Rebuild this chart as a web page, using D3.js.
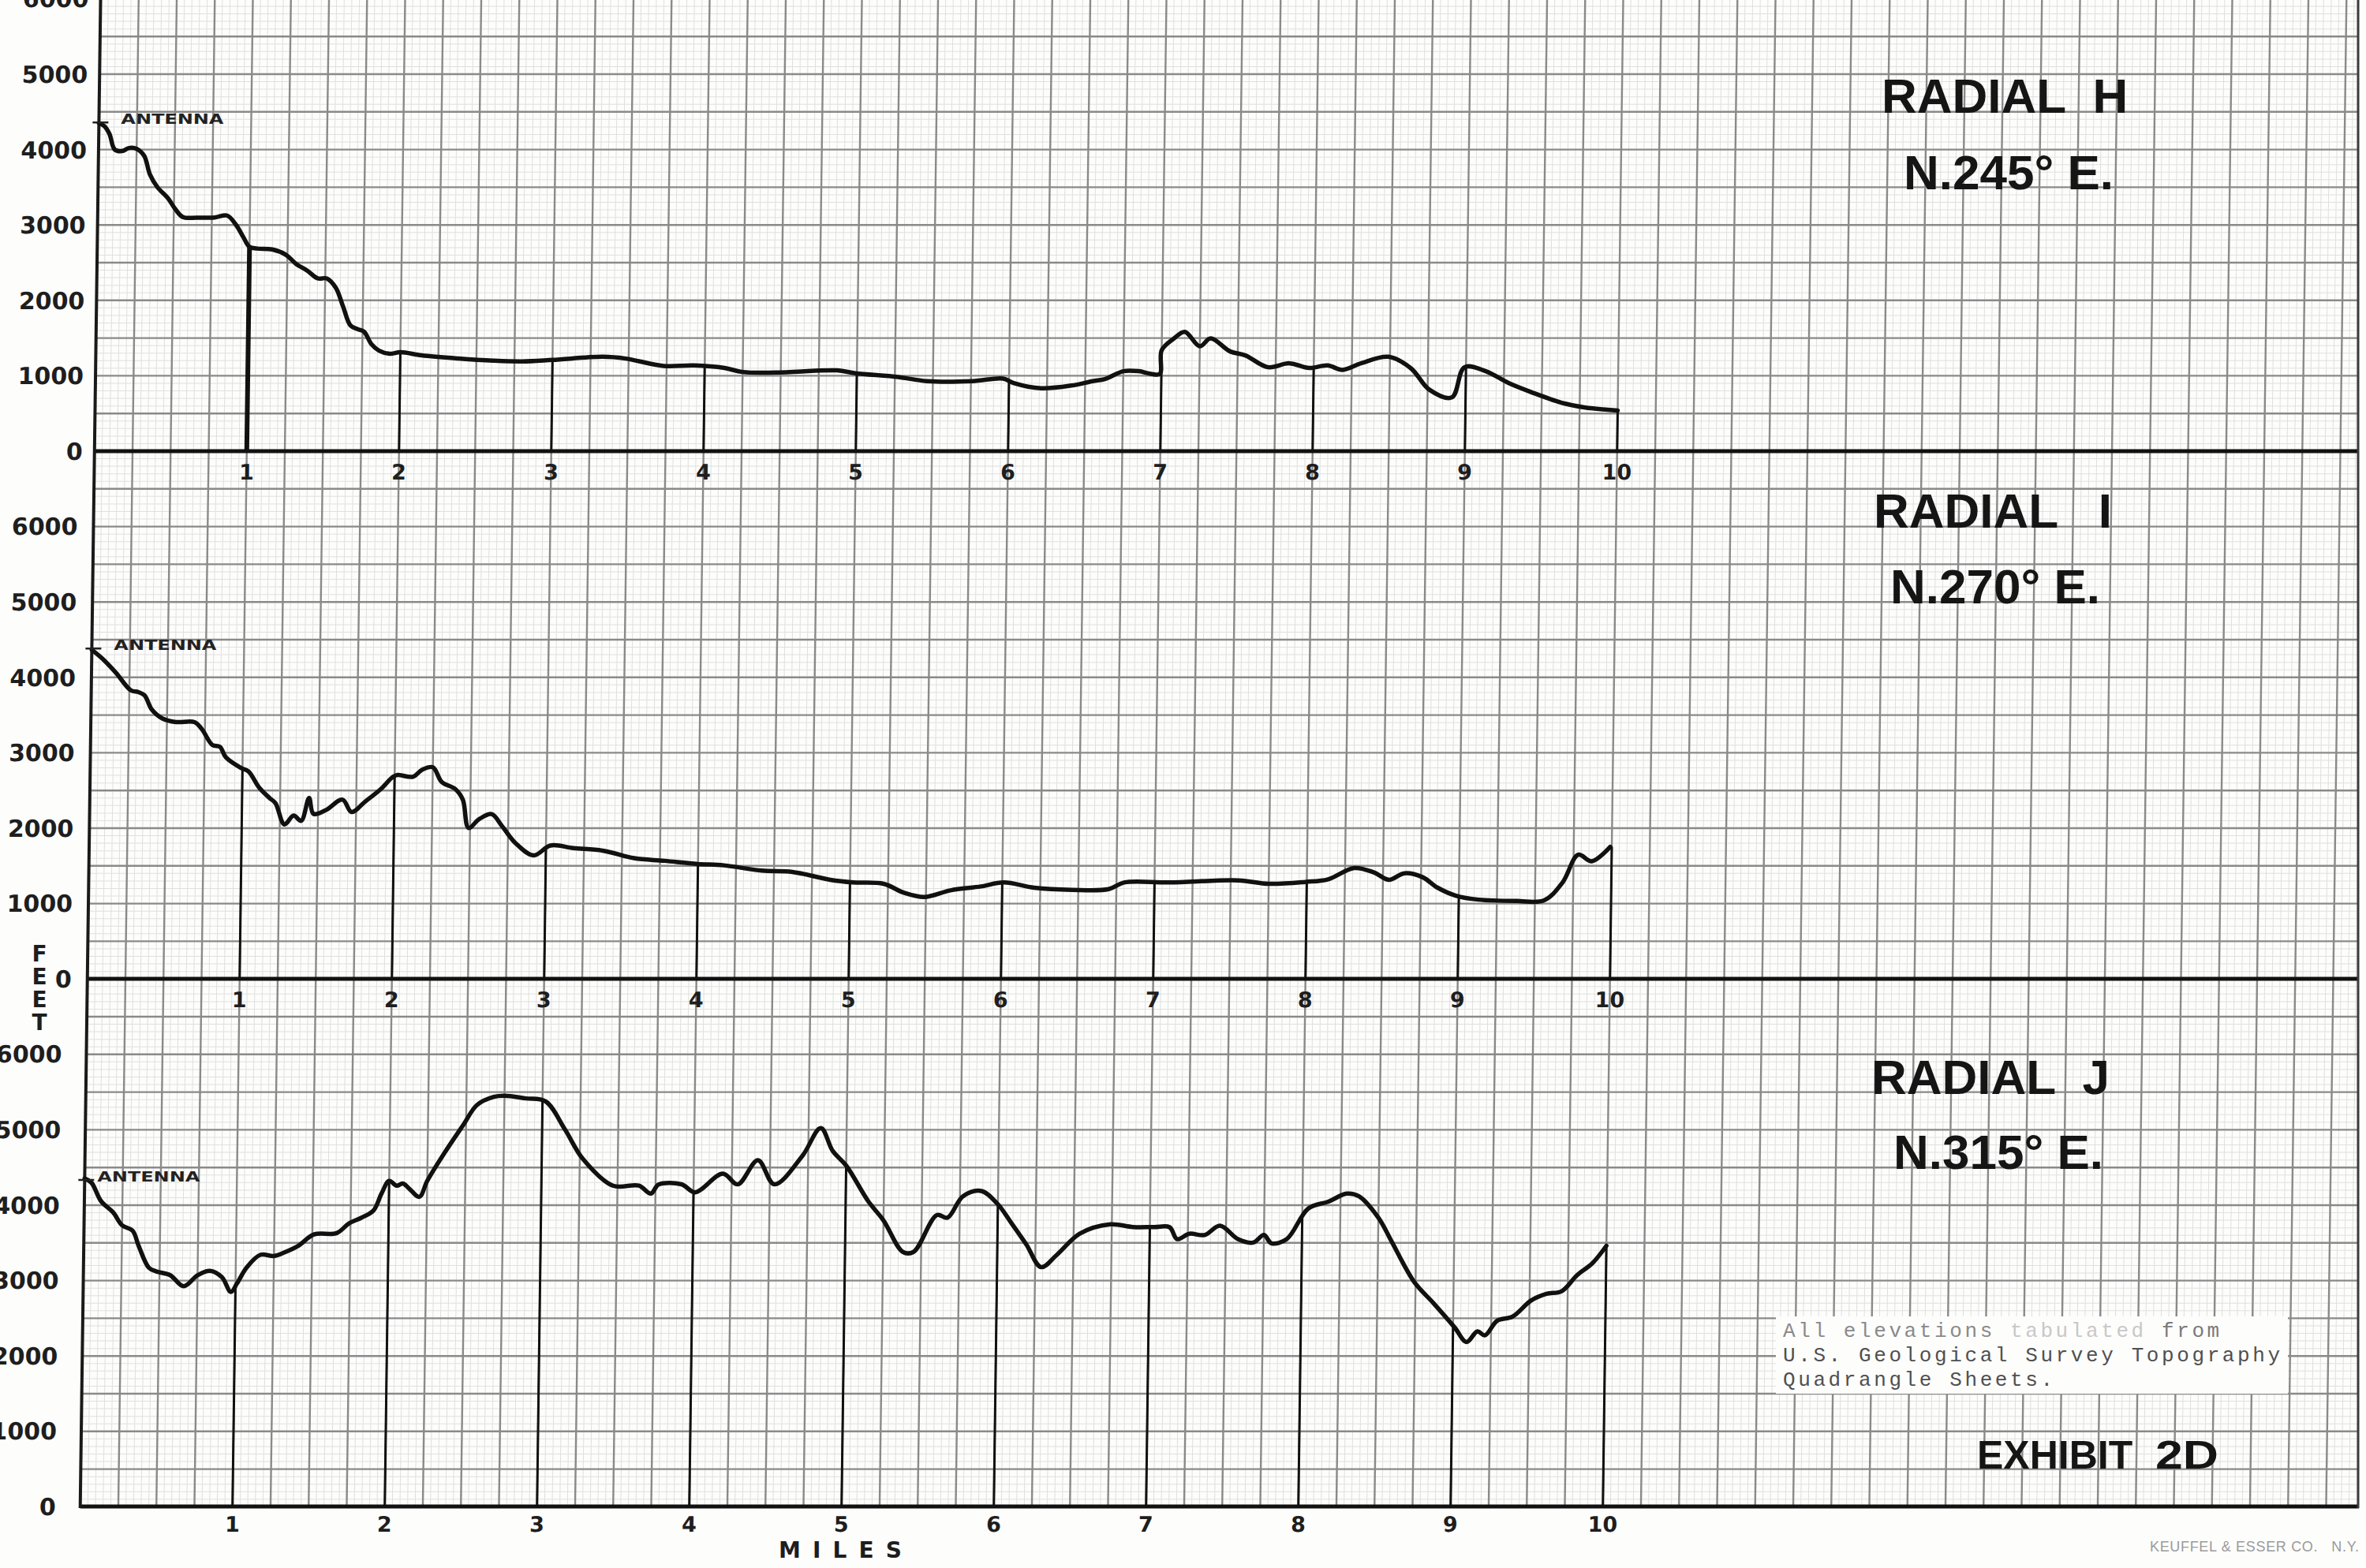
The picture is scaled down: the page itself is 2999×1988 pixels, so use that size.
<!DOCTYPE html>
<html>
<head>
<meta charset="utf-8">
<script src="https://cdn.jsdelivr.net/npm/d3@7"></script>
<style>
  html, body { margin: 0; padding: 0; background: #fff; }
  svg { display: block; }
  text { white-space: pre; }
</style>
</head>
<body>
<div class="canvas"></div>
<script>
const dims = {width: 2999, height: 1988}
// the scan is sheared a little: the left edge leans towards the bottom
const shear = -0.0135

// ---- data ----
const mileTicks = [1, 2, 3, 4, 5, 6, 7, 8, 9, 10]
const feetTicks = [0, 1000, 2000, 3000, 4000, 5000, 6000]
const radialNames = ['RADIAL  H', 'RADIAL   I', 'RADIAL  J']
const bearings = ['N.245° E.', 'N.270° E.', 'N.315° E.']
const antennaFeet = [4360, 4380, 4330]

const hMiles = [0, 0.035, 0.07, 0.106, 0.154, 0.2, 0.25, 0.3, 0.34, 0.39, 0.46, 0.51, 0.56, 0.65, 0.77, 0.85, 0.91, 0.96,
  1.0, 1.05, 1.15, 1.24, 1.31, 1.38, 1.45, 1.51, 1.57, 1.62, 1.67, 1.72, 1.76, 1.81, 1.86, 1.93,
  2.0, 2.14, 2.38, 2.61, 2.8, 3.0, 3.33, 3.48, 3.73, 3.93, 4.13, 4.25, 4.47, 4.87, 4.99,
  5.27, 5.46, 5.76, 5.96, 6.03, 6.21, 6.41, 6.55, 6.63, 6.75, 6.85, 6.93, 6.99,
  7.0, 7.08, 7.15, 7.25, 7.32, 7.45, 7.55, 7.7, 7.84, 7.97, 8.09, 8.19, 8.31, 8.49, 8.64, 8.76, 8.91, 8.99,
  9.13, 9.28, 9.43, 9.63, 9.78, 10.0]
const hFeet = [4350, 4313, 4208, 4000, 3979, 4021, 4010, 3917, 3667, 3500, 3354, 3208, 3104, 3096, 3100, 3125, 3000, 2833,
  2708, 2687, 2675, 2604, 2479, 2396, 2292, 2290, 2167, 1917, 1667, 1617, 1583, 1417, 1333, 1292,
  1313, 1271, 1229, 1200, 1190, 1210, 1252, 1228, 1130, 1137, 1103, 1050, 1043, 1071, 1033,
  984, 929, 929, 963, 904, 835, 870, 929, 956, 1061, 1061, 1026, 1026,
  1339, 1496, 1583, 1391, 1496, 1322, 1270, 1113, 1165, 1103, 1137, 1078, 1165, 1252, 1096, 817, 713, 1113,
  1061, 904, 783, 643, 581, 539]

const iMiles = [0, 0.07, 0.16, 0.26, 0.31, 0.35, 0.4, 0.47, 0.56, 0.68, 0.73, 0.8, 0.85, 0.89, 0.99,
  1.04, 1.11, 1.18, 1.22, 1.28, 1.34, 1.39, 1.44, 1.47, 1.55, 1.66, 1.72, 1.81, 1.91, 1.99,
  2.02, 2.12, 2.18, 2.25, 2.31, 2.4, 2.45, 2.49, 2.56, 2.64, 2.71, 2.8, 2.92,
  3.03, 3.18, 3.38, 3.58, 3.78, 4.0, 4.17, 4.42, 4.62, 4.87, 5.02, 5.22, 5.36, 5.49, 5.66, 5.86,
  6.01, 6.21, 6.46, 6.7, 6.8, 7.1, 7.55, 7.75, 7.99, 8.14, 8.31, 8.44, 8.54, 8.64, 8.76, 8.86, 8.98,
  9.13, 9.38, 9.56, 9.68, 9.78, 9.87, 9.99]
const iFeet = [4364, 4247, 4060, 3826, 3802, 3760, 3569, 3452, 3405, 3405, 3311, 3101, 3077, 2937, 2797,
  2750, 2540, 2399, 2329, 2048, 2165, 2095, 2399, 2189, 2236, 2376, 2212, 2353, 2516, 2680,
  2703, 2680, 2773, 2806, 2610, 2516, 2376, 2002, 2119, 2185, 2025, 1800, 1637,
  1768, 1733, 1698, 1600, 1565, 1523, 1505, 1435, 1418, 1313, 1278, 1260, 1138, 1085, 1173, 1225,
  1278, 1208, 1180, 1190, 1278, 1278, 1306, 1260, 1285, 1320, 1470, 1411, 1313, 1400, 1348, 1208, 1103,
  1050, 1033, 1040, 1278, 1645, 1558, 1750]

const jMiles = [0, 0.045, 0.11, 0.19, 0.25, 0.32, 0.36, 0.43, 0.48, 0.57, 0.66, 0.75, 0.83, 0.91, 0.97,
  1.01, 1.07, 1.16, 1.25, 1.32, 1.41, 1.51, 1.66, 1.74, 1.82, 1.9, 1.95,
  2.0, 2.05, 2.09, 2.13, 2.2, 2.25, 2.36, 2.48, 2.57, 2.68, 2.75, 2.89,
  3.02, 3.15, 3.27, 3.47, 3.64, 3.72, 3.77, 3.92, 4.01, 4.19, 4.29, 4.42, 4.53, 4.71, 4.83, 4.91,
  5.0, 5.15, 5.25, 5.38, 5.45, 5.6, 5.67, 5.77, 5.89, 6.0, 6.09, 6.19, 6.29, 6.39, 6.54, 6.74, 6.89,
  7.03, 7.13, 7.18, 7.26, 7.36, 7.46, 7.58, 7.68, 7.75, 7.8, 7.9, 8.04, 8.17, 8.29, 8.37, 8.5, 8.59, 8.74, 8.87,
  9.01, 9.09, 9.16, 9.21, 9.29, 9.39, 9.51, 9.61, 9.71, 9.81, 9.91, 10.0]
const jFeet = [4350, 4294, 4048, 3901, 3729, 3656, 3459, 3165, 3116, 3067, 2920, 3067, 3126, 3042, 2846,
  2959, 3165, 3337, 3322, 3371, 3459, 3607, 3626, 3754, 3828, 3926, 4146,
  4318, 4254, 4284, 4220, 4107, 4318, 4686, 5054, 5324, 5432, 5447, 5412,
  5372, 5000, 4610, 4255, 4255, 4150, 4270, 4273, 4167, 4415, 4273, 4592, 4273, 4645, 5018, 4716,
  4521, 4043, 3794, 3376, 3376, 3865, 3830, 4114, 4184, 4007, 3759, 3475, 3174, 3334, 3617, 3741, 3706,
  3706, 3703, 3546, 3617, 3600, 3724, 3546, 3500, 3600, 3490, 3546, 3954, 4043, 4149, 4114, 3830, 3511, 2979, 2695,
  2376, 2181, 2323, 2270, 2465, 2518, 2731, 2820, 2855, 3067, 3227, 3457]

// typed slip; the first line is partly faded on the original
const noteLines = ['U.S. Geological Survey Topography', 'Quadrangle Sheets.']
const noteFirst = ['All elevations', 'tabulated', 'from']

// ---- layout ----
const zeroY = [572, 1241, 1910]          // baseline of each profile
const ftPx = 0.0956                       // px per foot
const labelOff = [15, 20, 31]             // elevation labels, left of the axis
const mileLabelDy = [36, 36, 32]
const antennaDx = [28, 28, 16]
const titleX = [[2385, 2413], [2375, 2396], [2372, 2400]]
const titleY = [[143, 240], [669, 765], [1387, 1482]]

const profiles = [d3.zip(hMiles, hFeet), d3.zip(iMiles, iFeet), d3.zip(jMiles, jFeet)]

const x = d3.scaleLinear().domain([0, 10]).range([127.5, 2057.5])
const yScales = zeroY.map(z => d3.scaleLinear().domain([0, 6000]).range([z, z - 6000 * ftPx]))

// elevation at an exact mile, read along the drawn profile
const feetAt = (pts, m) => {
    const i = d3.bisector(d => d[0]).left(pts, m)
    if (i <= 0) return pts[0][1]
    if (i >= pts.length) return pts[pts.length - 1][1]
    const a = pts[i - 1], b = pts[i]
    return a[1] + (b[1] - a[1]) * (m - a[0]) / (b[0] - a[0])
}

const svg = d3.select('.canvas')
    .append('svg')
    .attr('width', dims.width)
    .attr('height', dims.height)

svg.append('rect')
    .attr('width', dims.width)
    .attr('height', dims.height)
    .attr('fill', '#fdfdfc')

svg.append('defs').append('clipPath').attr('id', 'sheet')
    .append('rect').attr('x', 0).attr('y', -5).attr('width', 2990).attr('height', 1918)

const sheet = svg.append('g').attr('clip-path', 'url(#sheet)')
const paper = sheet.append('g').attr('transform', `matrix(1,0,${shear},1,0,0)`)

//graph paper: fine lines first, heavy quarter-mile / 500 ft lines on top
const yH = yScales[0]
const vIdx = d3.range(0, 311)
const hIdx = d3.range(-140, 62)   // hundreds of feet on the H scale

const drawGrid = (major) => {
    const stroke = major ? '#8a8a8a' : '#e0e0e0'
    const width = major ? 2.4 : 1
    paper.append('g').selectAll('line')
        .data(vIdx.filter(k => (k % 5 === 0) === major))
        .join('line')
        .attr('x1', k => x(k / 20)).attr('x2', k => x(k / 20))
        .attr('y1', -5).attr('y2', zeroY[2])
        .attr('stroke', stroke).attr('stroke-width', width)
    paper.append('g').selectAll('line')
        .data(hIdx.filter(k => (k % 5 === 0) === major))
        .join('line')
        .attr('x1', x(0)).attr('x2', x(16))
        .attr('y1', k => yH(k * 100)).attr('y2', k => yH(k * 100))
        .attr('stroke', stroke).attr('stroke-width', width)
}
drawGrid(false)
drawGrid(true)

// base lines run right across the sheet
paper.selectAll('line.base')
    .data(zeroY)
    .join('line')
    .attr('class', 'base')
    .attr('x1', x(0)).attr('x2', x(16))
    .attr('y1', d => d).attr('y2', d => d)
    .attr('stroke', '#111').attr('stroke-width', 5)

// sheet borders
paper.append('line')
    .attr('x1', x(0)).attr('x2', x(0))
    .attr('y1', -5).attr('y2', zeroY[2] + 2)
    .attr('stroke', '#1a1a1a').attr('stroke-width', 4)
svg.append('line')
    .attr('x1', 2989).attr('x2', 2989)
    .attr('y1', 0).attr('y2', zeroY[2] + 2)
    .attr('stroke', '#3a3a3a').attr('stroke-width', 3)

const ink = svg.append('g').attr('transform', `matrix(1,0,${shear},1,0,0)`)

const line = d3.line().curve(d3.curveCatmullRom.alpha(0.5))

profiles.forEach((pts, p) => {
    const y = yScales[p]
    const g = ink.append('g')

    // verticals from the base to the profile at every mile
    g.selectAll('line.drop')
        .data(mileTicks)
        .join('line')
        .attr('class', 'drop')
        .attr('x1', d => x(d)).attr('x2', d => x(d))
        .attr('y1', y(0)).attr('y2', d => y(feetAt(pts, d)))
        .attr('stroke', '#111')
        .attr('stroke-width', d => (p === 0 && d === 1) ? 6 : 3)

    g.append('path')
        .attr('d', line.x(d => x(d[0])).y(d => y(d[1]))(pts))
        .attr('fill', 'none')
        .attr('stroke', '#111')
        .attr('stroke-width', 5.5)
        .attr('stroke-linejoin', 'round')
        .attr('stroke-linecap', 'round')

    // elevation labels
    g.selectAll('text.ft')
        .data(feetTicks)
        .join('text')
        .attr('class', 'ft')
        .attr('x', x(0) - labelOff[p])
        .attr('y', d => y(d) + 11)
        .attr('text-anchor', 'end')
        .attr('font-family', 'DejaVu Sans')
        .attr('font-weight', 'bold')
        .attr('font-size', 30)
        .attr('fill', '#1e1e1e')
        .text(d => d)

    // mile labels
    g.selectAll('text.mi')
        .data(mileTicks)
        .join('text')
        .attr('class', 'mi')
        .attr('x', d => x(d))
        .attr('y', y(0) + mileLabelDy[p])
        .attr('text-anchor', 'middle')
        .attr('font-family', 'DejaVu Sans')
        .attr('font-weight', 'bold')
        .attr('font-size', 27)
        .attr('fill', '#1e1e1e')
        .text(d => d)

    // antenna mark
    const ya = y(antennaFeet[p])
    g.append('line')
        .attr('x1', x(0) - 8).attr('x2', x(0) + 12)
        .attr('y1', ya).attr('y2', ya)
        .attr('stroke', '#222').attr('stroke-width', 2.5)
    g.append('text')
        .attr('x', x(0) + antennaDx[p])
        .attr('y', ya + 2)
        .attr('font-family', 'DejaVu Sans')
        .attr('font-weight', 'bold')
        .attr('font-size', 18)
        .attr('textLength', 130)
        .attr('lengthAdjust', 'spacingAndGlyphs')
        .attr('fill', '#222')
        .text('ANTENNA')
})

// titles (not sheared)
const titles = svg.append('g')
    .attr('font-family', 'Liberation Sans, Arial, sans-serif')
    .attr('font-weight', 'bold')
    .attr('font-size', 62)
    .attr('fill', '#151515')
radialNames.forEach((name, p) => {
    titles.append('text').attr('x', titleX[p][0]).attr('y', titleY[p][0]).text(name)
    titles.append('text').attr('x', titleX[p][1]).attr('y', titleY[p][1]).text(bearings[p])
})

// FEET, stacked
svg.append('g').selectAll('text')
    .data('FEET'.split(''))
    .join('text')
    .attr('x', 50)
    .attr('y', (d, i) => 1219 + i * 29)
    .attr('text-anchor', 'middle')
    .attr('font-family', 'DejaVu Sans')
    .attr('font-weight', 'bold')
    .attr('font-size', 28)
    .attr('fill', '#1e1e1e')
    .text(d => d)

svg.append('text')
    .attr('x', 987).attr('y', 1975)
    .attr('font-family', 'DejaVu Sans')
    .attr('font-weight', 'bold')
    .attr('font-size', 28)
    .attr('textLength', 156)
    .attr('lengthAdjust', 'spacing')
    .attr('fill', '#1e1e1e')
    .text('MILES')

// typed note on a pasted slip
svg.append('rect')
    .attr('x', 2251).attr('y', 1669).attr('width', 649).attr('height', 98)
    .attr('fill', '#fdfdfc')
const charW = 19.2
const note = svg.append('g')
    .attr('font-family', 'Liberation Mono, Courier New, monospace')
    .attr('font-size', 26)
    .attr('letter-spacing', 3.6)
const firstCols = [0, 15, 25]
const firstFill = ['#8a8a8a', '#c8c8c8', '#7a7a7a']
noteFirst.forEach((t, i) => {
    note.append('text')
        .attr('x', 2260 + firstCols[i] * charW).attr('y', 1695)
        .attr('fill', firstFill[i])
        .text(t)
})
noteLines.forEach((t, i) => {
    note.append('text')
        .attr('x', 2260).attr('y', 1726 + i * 31)
        .attr('fill', '#505050')
        .text(t)
})

const exhibit = svg.append('g')
    .attr('font-family', 'Liberation Sans, Arial, sans-serif')
    .attr('font-weight', 'bold')
    .attr('font-size', 50)
    .attr('fill', '#151515')
exhibit.append('text').attr('x', 2506).attr('y', 1862).text('EXHIBIT')
exhibit.append('text').attr('x', 2732).attr('y', 1862)
    .attr('textLength', 80).attr('lengthAdjust', 'spacingAndGlyphs').text('2D')

svg.append('text')
    .attr('x', 2725).attr('y', 1967)
    .attr('font-family', 'Liberation Sans, Arial, sans-serif')
    .attr('font-size', 18)
    .attr('textLength', 265)
    .attr('lengthAdjust', 'spacing')
    .attr('fill', '#9a9a9a')
    .text('KEUFFEL & ESSER CO.   N.Y.')
</script>
</body>
</html>
